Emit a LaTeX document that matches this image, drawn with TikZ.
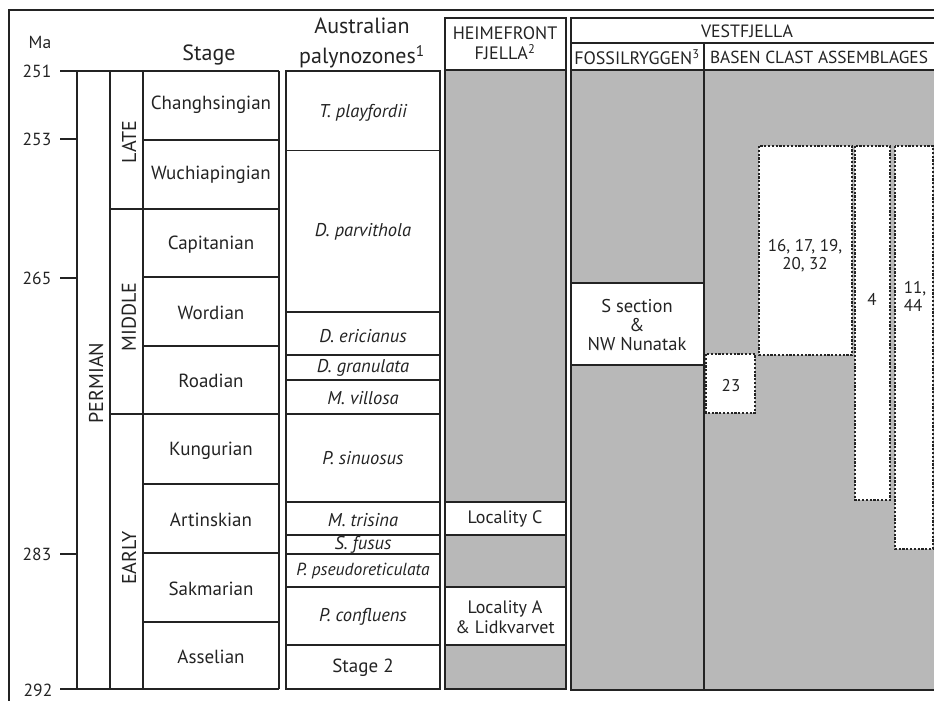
\documentclass[tikz,border=0pt]{standalone}
\usepackage{fontspec}
\setmainfont{PT Sans}
\definecolor{greyfill}{RGB}{184,184,184}
\definecolor{ink}{RGB}{35,35,35}
\tikzset{
  rule/.style={draw=ink, line width=1.1pt},
  heavy/.style={draw=ink, line width=2pt},
  light/.style={draw=ink, line width=0.9pt},
  dotbox/.style={draw=ink, fill=white, line width=1.6pt, dash pattern=on 2.2pt off 1.6pt},
  lbl/.style={text=ink, inner sep=0pt, font=\fontsize{17}{19}\selectfont},
  stg/.style={lbl, font=\fontsize{19}{21}\selectfont},
  pal/.style={lbl, font=\itshape\fontsize{18.5}{20}\selectfont},
  head/.style={lbl, font=\fontsize{22}{30}\selectfont, align=center},
  caps/.style={lbl, font=\fontsize{18}{20}\selectfont, align=center},
  num/.style={lbl, font=\fontsize{17.5}{19}\selectfont},
  epoch/.style={lbl, rotate=90, font=\fontsize{20}{22}\selectfont},
}
\begin{document}
\begin{tikzpicture}[x=1pt,y=-1pt]
\useasboundingbox (0,0) rectangle (934,701);
% ---------- fills
\fill[greyfill] (445,71) rectangle (566,689);
\fill[greyfill] (571,71) rectangle (936,690);
\fill[white] (445,502) rectangle (566,535);
\fill[white] (445,587) rectangle (566,645);
\fill[white] (571,283) rectangle (704,365);
% ---------- outer frame
\draw[rule] (9,701) -- (9,10) -- (936,10);
% ---------- time axis
\node[num] (ma) at (40,42) {Ma};
\node[num] (t251) at (37,71) {251};
\node[num] (t253) at (37,139) {253};
\node[num] (t265) at (37,278) {265};
\node[num] (t283) at (37,554) {283};
\node[num] (t292) at (38,690) {292};
\draw[rule] (60,71) -- (279,71);
\draw[rule] (60,689) -- (279,689);
\draw[heavy] (60,139) -- (77,139);
\draw[rule] (60,278) -- (77,278);
\draw[rule] (60,554) -- (77,554);
% ---------- columns
\draw[rule] (77,71) -- (77,689);
\draw[rule] (110,71) -- (110,689);
\draw[rule] (143,71) -- (143,689);
\draw[rule] (279,71) -- (279,689);
\node[head] (stagehead) at (209,55) {Stage};
\node[epoch] (permian) at (96,383) {PERMIAN};
\node[epoch] (late) at (129,142) {LATE};
\node[epoch] (middle) at (129,317) {MIDDLE};
\node[epoch] (early) at (129,558) {EARLY};
% epoch boundaries
\draw[heavy] (110,209) -- (279,209);
\draw[rule] (110,414) -- (279,414);
% stage boundaries
\draw[heavy] (143,140) -- (279,140);
\draw[heavy] (143,277) -- (279,277);
\draw[heavy] (143,346) -- (279,346);
\draw[rule] (143,484) -- (279,484);
\draw[rule] (143,553) -- (279,553);
\draw[heavy] (143,622) -- (279,622);
\node[stg] (chang) at (211,105) {Changhsingian};
\node[stg] (wuchi) at (211,175) {Wuchiapingian};
\node[stg] (capit) at (211,245) {Capitanian};
\node[stg] (word) at (211,313) {Wordian};
\node[stg] (road) at (211,381) {Roadian};
\node[stg] (kung) at (211,451) {Kungurian};
\node[stg] (artin) at (211,520) {Artinskian};
\node[stg] (sakm) at (211,589) {Sakmarian};
\node[stg] (assel) at (211,657) {Asselian};
% ---------- palynozones
\node[head] (palhead) at (362,43) {Australian\\palynozones\textsuperscript{1}};
\draw[rule] (286,71) rectangle (440,689);
\draw[light] (286,150) -- (440,150);
\draw[rule] (286,312) -- (440,312);
\draw[heavy] (286,355) -- (440,355);
\draw[rule] (286,380) -- (440,380);
\draw[rule] (286,414) -- (440,414);
\draw[heavy] (286,502) -- (440,502);
\draw[heavy] (286,535) -- (440,535);
\draw[rule] (286,554) -- (440,554);
\draw[heavy] (286,587) -- (440,587);
\draw[heavy] (286,645) -- (440,645);
\node[pal] (tplay) at (363,113) {T. playfordii};
\node[pal] (dparv) at (363,232) {D. parvithola};
\node[pal] (deric) at (363,336) {D. ericianus};
\node[pal] (dgran) at (363,368) {D. granulata};
\node[pal] (mvill) at (363,398) {M. villosa};
\node[pal] (psinu) at (363,458) {P. sinuosus};
\node[pal] (mtris) at (363,520) {M. trisina};
\node[pal] (sfusu) at (363,545) {S. fusus};
\node[pal, font=\itshape\fontsize{17.5}{20}\selectfont] (ppseu) at (363,571) {P. pseudoreticulata};
\node[pal] (pconf) at (363,617) {P. confluens};
\node[stg] (stage2) at (363,668) {Stage 2};
% ---------- Heimefront Fjella
\draw[rule] (445,18) rectangle (566,689);
\draw[rule] (445,70) -- (566,70);
\node[caps] (heimhead) at (505,43) {HEIMEFRONT\\FJELLA\textsuperscript{2}};
\draw[heavy] (445,502) -- (566,502);
\draw[heavy] (445,535) -- (566,535);
\draw[heavy] (445,587) -- (566,587);
\draw[heavy] (445,645) -- (566,645);
\node[lbl, font=\fontsize{18}{20}\selectfont] (locc) at (505,519) {Locality C};
\node[lbl, align=center, font=\fontsize{18}{20}\selectfont] (loca) at (505,617) {Locality A\\\& Lidkvarvet};
% ---------- Vestfjella
\draw[rule] (936,18) -- (571,18) -- (571,690) -- (936,690);
\draw[rule] (571,43) -- (936,43);
\draw[rule] (571,70) -- (936,70);
\draw[rule] (704,43) -- (704,690);
\node[caps, font=\fontsize{17.8}{20}\selectfont] (vesthead) at (747,31) {VESTFJELLA};
\node[caps, font=\fontsize{18}{20}\selectfont] (fosshead) at (637,57) {FOSSILRYGGEN\textsuperscript{3}};
\node[caps, font=\fontsize{17.4}{20}\selectfont] (basehead) at (819,57) {BASEN CLAST ASSEMBLAGES};
\draw[rule] (571,283) -- (704,283);
\draw[rule] (571,365) -- (704,365);
\node[lbl, align=center, font=\fontsize{18.5}{19}\selectfont] (ssect) at (637,325) {S section\\\&\\NW Nunatak};
% clast assemblages
\draw[dotbox] (759,146) rectangle (852,355);
\draw[dotbox] (706,354) rectangle (755,413);
\draw[dotbox] (855,146) rectangle (890,500);
\draw[dotbox] (895,146) rectangle (933,549);
\node[lbl, align=center, font=\fontsize{17}{18}\selectfont] (c16) at (805,256) {16, 17, 19,\\20, 32};
\node[lbl] (c23) at (731,386) {23};
\node[lbl] (c4) at (872,299) {4};
\node[lbl, align=left, font=\fontsize{17}{18}\selectfont] (c11) at (915,296) {11,\\44};
\end{tikzpicture}
\end{document}
